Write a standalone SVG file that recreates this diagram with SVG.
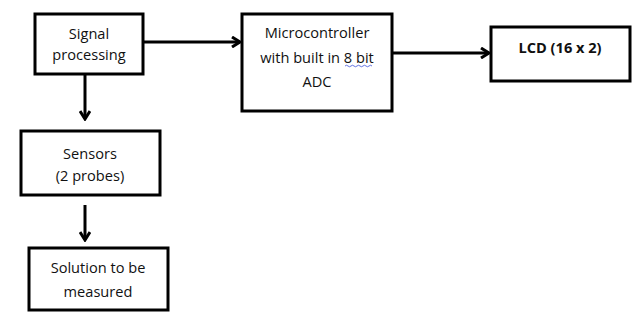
<svg xmlns="http://www.w3.org/2000/svg" width="640" height="316" viewBox="0 0 640 316">
<style>
.box{fill:#fff;stroke:#000;stroke-width:3}
.t{font-family:"Open Sans","Liberation Sans",sans-serif;font-size:14.6px;fill:#111;text-anchor:middle}
.b{font-weight:bold}
.c{fill:none;stroke:#000;stroke-width:3}
</style>
<defs>
<marker id="ah" viewBox="0 0 12 12" refX="10" refY="6" markerWidth="12" markerHeight="12" markerUnits="userSpaceOnUse" orient="auto">
<polyline points="2,1 10,6 2,11" fill="none" stroke="#000" stroke-width="3"/>
</marker>
</defs>
<rect width="640" height="316" fill="#fff"/>
<g id="connectors">
<line class="c" x1="143" y1="42" x2="240" y2="42" marker-end="url(#ah)"/>
<line class="c" x1="392" y1="53" x2="489" y2="53" marker-end="url(#ah)"/>
<line class="c" x1="85" y1="74" x2="85" y2="119" marker-end="url(#ah)"/>
<line class="c" x1="85" y1="205" x2="85" y2="240" marker-end="url(#ah)"/>
</g>
<g id="signal">
<rect class="box" x="35" y="14" width="108" height="60"/>
<text class="t" x="89" y="39">Signal</text>
<text class="t" x="89" y="60">processing</text>
</g>
<g id="micro">
<rect class="box" x="242" y="14" width="150" height="97"/>
<text class="t" x="317" y="38">Microcontroller</text>
<text class="t" x="317" y="63">with built in 8 bit</text>
<text class="t" x="317" y="87">ADC</text>
<path d="M345,66 q1.5,-1.5 3,0 t3,0 t3,0 t3,0 t3,0 t3,0 t3,0 t3,0 t3,0" fill="none" stroke="#3b4fd8" stroke-width="0.8"/>
</g>
<g id="lcd">
<rect class="box" x="491" y="27" width="139" height="54"/>
<text class="t b" x="560" y="53">LCD (16 x 2)</text>
</g>
<g id="sensors">
<rect class="box" x="21" y="131" width="139" height="64"/>
<text class="t" x="90" y="159">Sensors</text>
<text class="t" x="90" y="181">(2 probes)</text>
</g>
<g id="solution">
<rect class="box" x="29" y="248" width="139" height="62"/>
<text class="t" x="98" y="273">Solution to be</text>
<text class="t" x="98" y="297">measured</text>
</g>
</svg>
